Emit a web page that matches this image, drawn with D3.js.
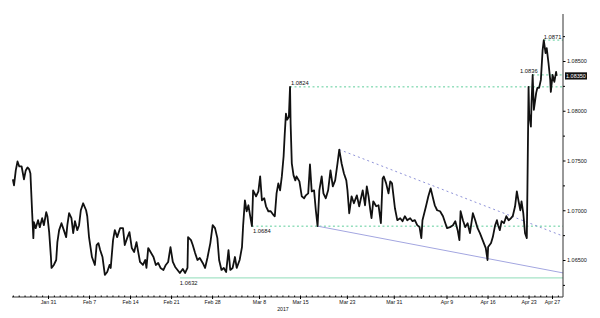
<!DOCTYPE html>
<html>
<head>
<meta charset="utf-8">
<script src="https://cdn.jsdelivr.net/npm/d3@7"></script>
<style>
  body { margin: 0; background: #fff; }
  text { font-family: "Liberation Sans", Arial, sans-serif; fill: #111; }
</style>
</head>
<body>
<script>
// EUR/USD, Jan 24 - Apr 27 2017. Days are counted from Jan 31 00:00
var dayOffsets = [
  -6.0,-5.8,-5.5,-5.2,-4.9,-4.5,-4.1,-3.8,-3.5,-3.2,
  -3.0,-2.7,-2.5,-2.4,-2.1,-1.7,-1.4,-1.0,-0.7,-0.3,
  -0.1,0.2,0.5,0.6,1.0,1.4,1.6,1.9,2.3,2.7,
  3.1,3.3,3.6,4.0,4.3,4.6,5.0,5.3,5.6,6.0,
  6.5,6.7,7.0,7.5,8.0,8.3,8.6,8.9,9.3,9.7,
  10.1,10.5,10.7,11.1,11.4,11.8,12.3,12.8,13.1,13.5,
  13.9,14.3,14.7,15.1,15.4,15.7,16.2,16.6,16.8,17.1,
  17.5,18.0,18.4,18.8,19.2,19.7,20.1,20.5,20.9,21.3,
  21.7,22.1,22.5,23.0,23.4,23.8,23.9,24.4,24.7,25.1,
  25.5,25.9,26.4,26.8,27.2,27.7,28.1,28.5,28.9,29.2,
  29.6,30.0,30.4,30.8,31.1,31.5,31.9,32.2,32.7,33.1,
  33.3,33.6,33.9,34.2,34.5,34.8,35.0,35.5,35.9,36.2,
  36.5,36.9,37.2,37.6,38.0,38.5,38.7,39.0,39.3,39.6,
  39.9,40.2,40.4,40.6,40.8,41.1,41.3,41.4,41.6,41.9,
  42.2,42.4,42.9,43.3,43.7,44.0,44.4,44.7,45.0,45.4,
  45.7,46.0,46.3,46.7,47.0,47.4,47.8,48.2,48.6,49.0,
  49.4,49.7,50.1,50.5,50.9,51.1,51.4,51.8,52.2,52.7,
  53.1,53.7,54.1,54.4,54.7,55.0,55.2,55.5,56.0,56.4,
  56.8,57.1,57.3,57.7,58.1,58.4,58.7,58.9,59.2,59.6,
  60.1,60.5,60.9,61.3,61.8,62.2,62.6,63.0,63.4,63.7,
  63.9,64.2,64.5,64.9,65.3,65.7,66.0,66.4,66.9,67.4,
  67.8,68.1,68.6,69.1,69.5,69.9,70.2,70.4,70.8,71.2,
  71.6,72.0,72.5,72.9,73.3,73.7,74.3,74.7,75.0,75.1,
  75.6,75.9,76.3,76.6,76.8,77.1,77.4,77.8,78.2,78.6,
  79.0,79.3,79.7,80.0,80.3,80.6,80.8,81.1,81.4,81.7,
  81.8,82.0,82.1,82.4,82.5,82.7,82.9,83.3,83.5,83.8,
  84.1,84.4,84.6,84.9,85.1,85.4,85.7,85.8,86.1,86.4,
  86.7,86.8
];
var prices = [
  1.0731,1.0725,1.0740,1.0749,1.0744,1.0744,1.0731,1.0740,1.0743,1.0741,
  1.0737,1.0697,1.0672,1.0688,1.0682,1.0690,1.0683,1.0692,1.0685,1.0698,
  1.0694,1.0678,1.0653,1.0642,1.0645,1.0650,1.0668,1.0680,1.0687,1.0680,
  1.0673,1.0685,1.0697,1.0692,1.0677,1.0689,1.0680,1.0685,1.0700,1.0707,
  1.0700,1.0694,1.0673,1.0653,1.0645,1.0665,1.0667,1.0660,1.0653,1.0635,
  1.0638,1.0645,1.0642,1.0670,1.0680,1.0673,1.0682,1.0682,1.0665,1.0672,
  1.0678,1.0662,1.0658,1.0668,1.0658,1.0648,1.0645,1.0650,1.0642,1.0662,
  1.0658,1.0653,1.0645,1.0647,1.0642,1.0640,1.0645,1.0648,1.0663,1.0648,
  1.0643,1.0640,1.0637,1.0641,1.0637,1.0642,1.0673,1.0670,1.0665,1.0657,
  1.0650,1.0652,1.0647,1.0642,1.0652,1.0667,1.0685,1.0682,1.0672,1.0650,
  1.0640,1.0642,1.0638,1.0660,1.0640,1.0642,1.0653,1.0642,1.0650,1.0663,
  1.0685,1.0710,1.0699,1.0705,1.0694,1.0684,1.0720,1.0714,1.0719,1.0734,
  1.0710,1.0712,1.0704,1.0699,1.0699,1.0695,1.0694,1.0717,1.0727,1.0720,
  1.0734,1.0754,1.0777,1.0797,1.0791,1.0794,1.0824,1.0787,1.0747,1.0735,
  1.0730,1.0734,1.0729,1.0714,1.0712,1.0715,1.0717,1.0746,1.0719,1.0720,
  1.0700,1.0684,1.0720,1.0734,1.0717,1.0712,1.0720,1.0740,1.0724,1.0730,
  1.0747,1.0761,1.0747,1.0737,1.0730,1.0720,1.0697,1.0714,1.0707,1.0715,
  1.0704,1.0720,1.0705,1.0724,1.0714,1.0700,1.0692,1.0709,1.0704,1.0705,
  1.0687,1.0732,1.0734,1.0727,1.0717,1.0729,1.0727,1.0717,1.0702,1.0690,
  1.0692,1.0689,1.0694,1.0690,1.0692,1.0689,1.0690,1.0685,1.0683,1.0672,
  1.0690,1.0697,1.0704,1.0714,1.0722,1.0712,1.0705,1.0700,1.0699,1.0694,
  1.0687,1.0682,1.0683,1.0685,1.0689,1.0680,1.0670,1.0699,1.0690,1.0683,
  1.0687,1.0677,1.0697,1.0690,1.0682,1.0677,1.0668,1.0662,1.0650,1.0663,
  1.0667,1.0673,1.0685,1.0690,1.0685,1.0680,1.0689,1.0687,1.0694,1.0690,
  1.0692,1.0694,1.0704,1.0719,1.0709,1.0700,1.0709,1.0697,1.0677,1.0672,
  1.0719,1.0824,1.0797,1.0784,1.0807,1.0836,1.0801,1.0818,1.0823,1.0823,
  1.0831,1.0861,1.0871,1.0858,1.0863,1.0848,1.0831,1.0819,1.0836,1.0829,
  1.0839,1.0835
];
var lastPrice = 1.0835;

var xTickDates = ["2017-01-31","2017-02-07","2017-02-14","2017-02-21","2017-02-28","2017-03-08",
  "2017-03-15","2017-03-23","2017-03-31","2017-04-09","2017-04-16","2017-04-23","2017-04-27"];
var yMajorTicks = [1.065, 1.070, 1.075, 1.080, 1.085];
var yMinorTicks = [1.0625, 1.0675, 1.0725, 1.0775, 1.0825, 1.0875];

// horizontal levels: value and day it starts
var levelValues = [1.0632, 1.0684, 1.0824, 1.0836, 1.0871];
var levelStart  = [22.5, 34.8, 41.3, 82.7, 84.6];
var levelSolid  = [true, false, false, false, false];

// trend lines [startDay, startValue, endDay, endValue]
var resistance = [49.7, 1.0761, 87.9, 1.0674];
var support    = [46.0, 1.0684, 87.9, 1.0637];

var width = 600, height = 318;
var axisX = 563, axisY = 297, plotTop = 14, plotLeft = 12;

var parse = d3.timeParse("%Y-%m-%d");
var base = new Date(2017, 0, 31);
function dayToDate(d) { return new Date(base.getTime() + d * 864e5); }

var x = d3.scaleTime()
    .domain([parse("2017-01-31"), parse("2017-04-27")])
    .range([48, 552]);

var y = d3.scaleLinear()
    .domain([1.065, 1.085])
    .range([260, 61]);

var data = dayOffsets.map(function(d, i) {
  return { date: dayToDate(d), value: prices[i] };
});

var svg = d3.select("body").append("svg")
    .attr("width", width)
    .attr("height", height);

var green = "#5fce9c", blue = "#8f93d8";

// levels
levelValues.forEach(function(v, i) {
  svg.append("line")
      .attr("x1", x(dayToDate(levelStart[i])))
      .attr("x2", axisX)
      .attr("y1", y(v)).attr("y2", y(v))
      .attr("stroke", levelSolid[i] ? "#8fdcb8" : green)
      .attr("stroke-width", 1)
      .attr("stroke-dasharray", levelSolid[i] ? null : "2,2.5");
});

// trend lines
svg.append("line")
    .attr("x1", x(dayToDate(resistance[0]))).attr("y1", y(resistance[1]))
    .attr("x2", x(dayToDate(resistance[2]))).attr("y2", y(resistance[3]))
    .attr("stroke", blue).attr("stroke-width", 1).attr("stroke-dasharray", "2,3");
svg.append("line")
    .attr("x1", x(dayToDate(support[0]))).attr("y1", y(support[1]))
    .attr("x2", x(dayToDate(support[2]))).attr("y2", y(support[3]))
    .attr("stroke", "#a3a6e0").attr("stroke-width", 1);

// price
var line = d3.line()
    .x(function(d) { return x(d.date); })
    .y(function(d) { return y(d.value); });

svg.append("path")
    .datum(data)
    .attr("fill", "none")
    .attr("stroke", "#111")
    .attr("stroke-width", 1.8)
    .attr("stroke-linejoin", "round")
    .attr("d", line);

// level labels
var fmt4 = d3.format(".4f");
function levelLabel(i, dx, dy, anchor) {
  svg.append("text")
      .attr("x", x(dayToDate(levelStart[i])) + dx)
      .attr("y", y(levelValues[i]) + dy)
      .attr("text-anchor", anchor)
      .style("font-size", "5.8px")
      .text(fmt4(levelValues[i]));
}
levelLabel(0, 0, 7, "start");
levelLabel(1, 1, 7, "start");
levelLabel(2, 1, -1.5, "start");
levelLabel(3, 5, -1.5, "end");
levelLabel(4, 0, -1.5, "start");

// right axis
svg.append("line")
    .attr("x1", axisX).attr("x2", axisX)
    .attr("y1", plotTop).attr("y2", axisY)
    .attr("stroke", "#333");

var yAxis = svg.append("g")
    .attr("transform", "translate(" + axisX + ",0)")
    .call(d3.axisRight(y).tickValues(yMajorTicks).tickSize(2.5).tickPadding(1.5).tickFormat(d3.format(".5f")));
yAxis.select(".domain").remove();
yAxis.selectAll("text").style("font-size", "5.5px").attr("fill", "#111");

var yMinor = svg.append("g")
    .attr("transform", "translate(" + axisX + ",0)")
    .call(d3.axisRight(y).tickValues(yMinorTicks).tickSize(2).tickFormat(""));
yMinor.select(".domain").remove();

// current price box
svg.append("rect")
    .attr("x", axisX + 2)
    .attr("y", y(lastPrice) - 3.6)
    .attr("width", 22).attr("height", 7.2)
    .attr("fill", "#111");
svg.append("text")
    .attr("x", axisX + 3)
    .attr("y", y(lastPrice) + 2)
    .style("font-size", "5.5px")
    .style("fill", "#fff")
    .text(d3.format(".5f")(lastPrice));

// bottom axis
svg.append("line")
    .attr("x1", plotLeft).attr("x2", axisX)
    .attr("y1", axisY).attr("y2", axisY)
    .attr("stroke", "#333");

var days = d3.timeDay.range(x.invert(plotLeft), x.invert(axisX));
var xMinor = svg.append("g")
    .attr("transform", "translate(0," + axisY + ")")
    .call(d3.axisBottom(x).tickValues(days).tickSize(-1.5).tickFormat(""));
xMinor.select(".domain").remove();

var xAxis = svg.append("g")
    .attr("transform", "translate(0," + axisY + ")")
    .call(d3.axisBottom(x).tickValues(xTickDates.map(parse)).tickSize(2).tickPadding(1).tickFormat(d3.timeFormat("%b %-d")));
xAxis.select(".domain").remove();
xAxis.selectAll("text").style("font-size", "5.2px").attr("fill", "#111");

svg.append("text")
    .attr("x", 283).attr("y", 311)
    .attr("text-anchor", "middle")
    .style("font-size", "5.2px")
    .text("2017");
</script>
</body>
</html>
